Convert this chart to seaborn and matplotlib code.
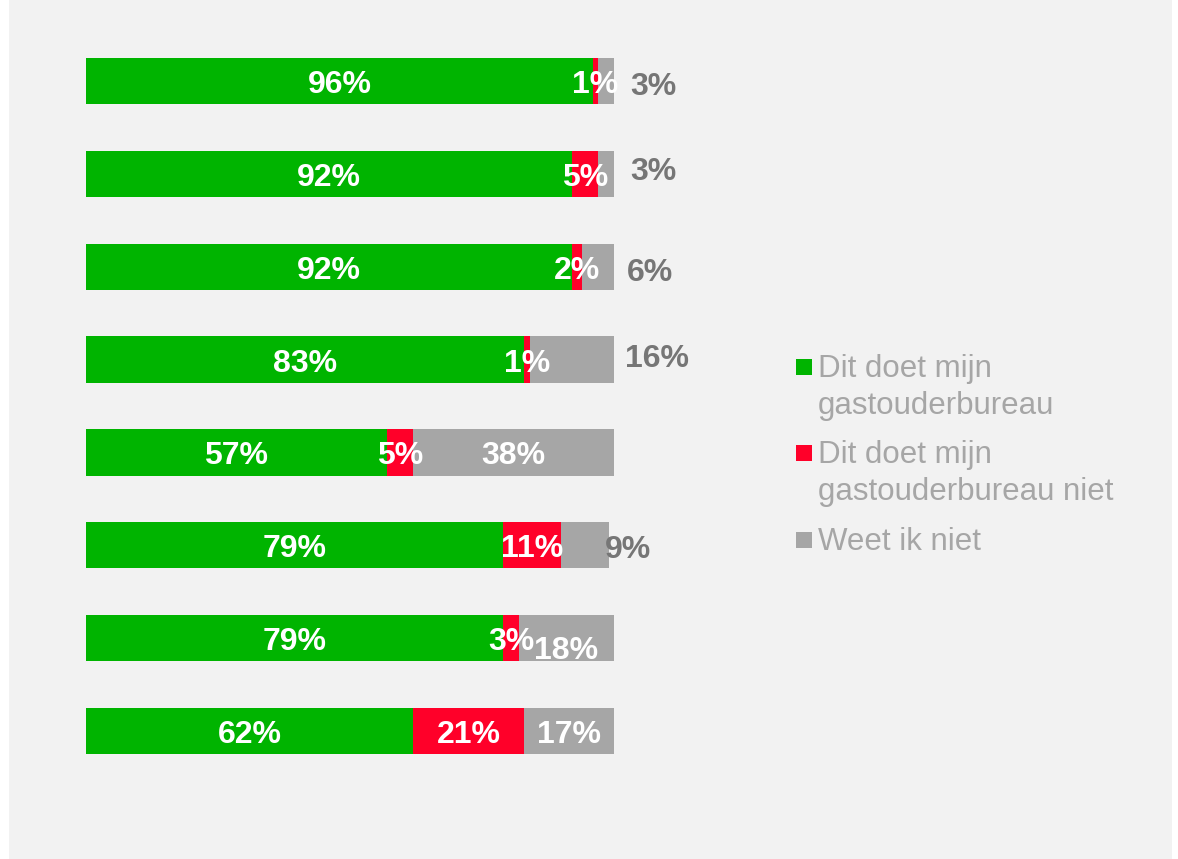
import numpy as np
import matplotlib.pyplot as plt
import seaborn as sns
from matplotlib.patches import Rectangle

# data (8 statements, no visible category labels)
items = ["s1", "s2", "s3", "s4", "s5", "s6", "s7", "s8"]
doet = [96, 92, 92, 83, 57, 79, 79, 62]
niet = [1, 5, 2, 1, 5, 11, 3, 21]
weet = [3, 3, 6, 16, 38, 9, 18, 17]
legend_labels = ["Dit doet mijn\ngastouderbureau",
                 "Dit doet mijn\ngastouderbureau niet",
                 "Weet ik niet"]

GREEN = "#00b400"
RED = "#ff0029"
GRAY = "#a6a6a6"
DARK = "#767676"
BG = "#f2f2f2"

# where the "weet ik niet" label goes (inside bar or to the right of it)
weet_inside = [False, False, False, False, True, False, True, True]
weet_dx = [16, 16, 13, 11, 0, -4, 0, 0]   # pixels, for outside labels
weet_dy = [-2, 6, -2, 5, 0, -1, -9, 0]    # pixels
base_dy = -4  # all labels sit a little below the bar centre

W, H = 1178, 859
sns.set_theme(style="white")
plt.rcParams["font.family"] = ["Liberation Sans", "DejaVu Sans"]

fig = plt.figure(figsize=(W / 100, H / 100), dpi=100, facecolor="white")
fig.patches.append(Rectangle((9 / W, 0), (1172 - 9) / W, 1, transform=fig.transFigure,
                             facecolor=BG, edgecolor="none", zorder=-1))

ax = fig.add_axes([86 / W, 1 - 777.4 / H, 528 / W, 742.8 / H])
ax.set_zorder(2)
ax.set_facecolor("none")

doet = np.array(doet)
niet = np.array(niet)
weet = np.array(weet)

# stacked by overdrawing: total first, then green+red, then green
sns.barplot(x=doet + niet + weet, y=items, orient="h", color=GRAY, saturation=1,
            width=0.5, linewidth=0, ax=ax)
sns.barplot(x=doet + niet, y=items, orient="h", color=RED, saturation=1,
            width=0.5, linewidth=0, ax=ax)
sns.barplot(x=doet, y=items, orient="h", color=GREEN, saturation=1,
            width=0.5, linewidth=0, ax=ax)

ax.set_xlim(0, 100)
ax.set_ylim(7.5, -0.5)
ax.axis("off")

lab = dict(color="white", fontsize=23, fontweight="bold", ha="center", va="center",
           textcoords="offset pixels")
for i in range(len(items)):
    ax.annotate(f"{doet[i]}%", (doet[i] / 2, i), xytext=(0, base_dy), **lab)
    ax.annotate(f"{niet[i]}%", (doet[i] + niet[i] / 2, i), xytext=(0, base_dy), **lab)
    if weet_inside[i]:
        ax.annotate(f"{weet[i]}%", (doet[i] + niet[i] + weet[i] / 2, i),
                    xytext=(0, base_dy + weet_dy[i]), **lab)
    else:
        ax.annotate(f"{weet[i]}%", (doet[i] + niet[i] + weet[i], i),
                    xytext=(weet_dx[i], base_dy + weet_dy[i]),
                    textcoords="offset pixels", color=DARK, fontsize=23,
                    fontweight="bold", ha="left", va="center")

# legend drawn by hand to keep the square next to the first line
leg_colors = [GREEN, RED, GRAY]
leg_base = [377, 463, 550]
for c, txt, yb in zip(leg_colors, legend_labels, leg_base):
    fig.patches.append(Rectangle((796 / W, 1 - (yb - 2) / H), 16 / W, 16 / H,
                                 transform=fig.transFigure, facecolor=c,
                                 edgecolor="none"))
    for k, line in enumerate(txt.split("\n")):
        fig.text(818 / W, 1 - (yb + 37 * k) / H, line, color=GRAY, fontsize=22.5,
                 ha="left", va="baseline")

fig.savefig("out.png", dpi=100, facecolor="white")
